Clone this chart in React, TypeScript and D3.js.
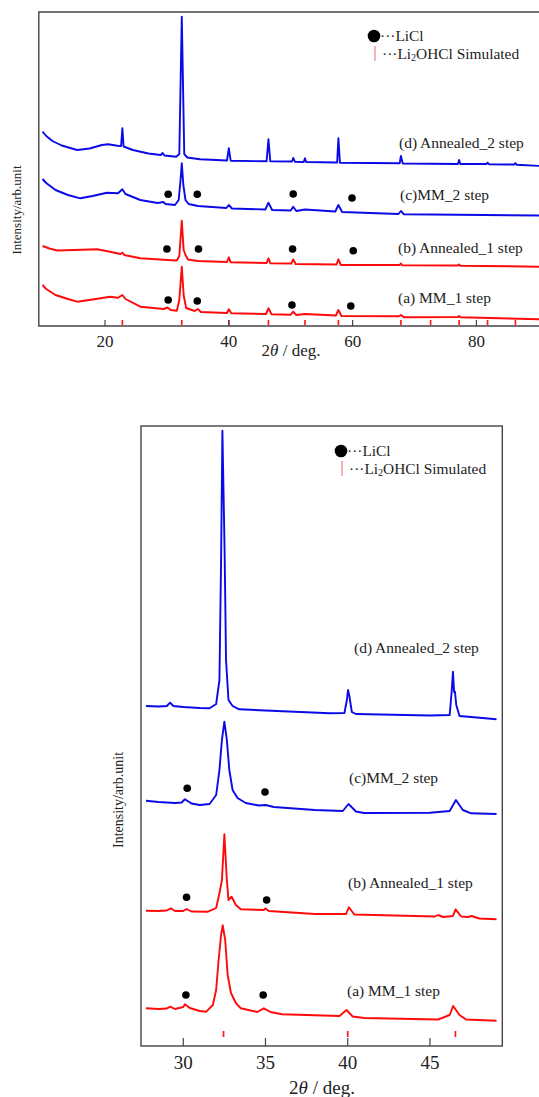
import React, { useEffect, useRef } from 'react'
import * as d3 from 'd3'

// ---- data (2theta in deg, intensity in arbitrary units) ----
type Pt = [number, number]

const topD: Pt[] = [[9.9,194.3],[10.5,190],[11.5,185],[13,180.5],[15.5,176],[17.5,177.5],[19.5,181],[20.5,181.7],[22,180.3],[22.6,180],[22.8,197.7],[23,179.5],[24.5,176],[27,172.5],[29,171],[29.3,173],[29.6,170.5],[31.5,169.3],[32,172],[32.4,309.3],[32.8,172],[33.3,168.5],[35.3,166.7],[39.7,165.5],[40,177.7],[40.3,165.3],[46.1,164.7],[46.4,186.7],[46.7,164.7],[50.2,164.5],[50.4,168],[50.7,164.2],[52.1,164],[52.3,167.7],[52.5,164],[57.5,163.5],[57.7,187.7],[57.95,163.3],[67.6,162.7],[67.8,170],[68.1,162.5],[77,162],[77.2,166],[77.4,162],[81.6,162],[81.8,163.3],[82,161.8],[86.1,161.5],[86.3,162.8],[86.5,161.3],[90.4,160]]
const topC: Pt[] = [[9.9,147],[10.5,143],[12,136],[14,131],[16,127.7],[18,130],[20.3,133.3],[22.1,132.7],[22.8,136.7],[23.3,132],[25.7,126],[28.5,123],[29.4,124],[29.8,122],[31.3,121],[31.9,126],[32.2,146],[32.4,162.7],[32.65,141],[33,126],[33.5,122],[35,120],[39.6,118],[40,121],[40.5,117.5],[45.9,116.5],[46.4,123.3],[47,116],[50,115.5],[50.4,119.3],[50.9,115],[52.3,116.5],[57.2,114.5],[57.7,121],[58.3,114],[67.4,112],[67.8,115],[68.3,111.7],[90.4,110.5]]
const topB: Pt[] = [[9.9,80],[11,77.5],[12.3,75.5],[15,76],[18.7,76.7],[21,74],[22.5,72],[22.8,73.3],[23.1,71],[25.7,67.7],[30.1,66],[31.6,65.5],[32,70],[32.4,105.3],[32.7,76],[33,71],[33.4,66.5],[35,65],[39.7,64],[40,68.7],[40.3,63.7],[46.1,63],[46.4,67.7],[46.7,62.7],[50.1,62.5],[50.4,66.7],[50.8,62],[57.4,61.5],[57.7,66.7],[58.1,61],[67.6,61],[67.8,62.5],[68,60.8],[77,60.5],[77.2,61.5],[77.4,60.3],[90.4,59.3]]
const topA: Pt[] = [[9.9,41],[10.5,37],[12,31],[14,27],[15.5,24.3],[18,26.5],[20.8,29.3],[22.1,28.3],[22.8,31],[23.3,27],[25.7,19.3],[29.5,17],[30.1,18.5],[30.6,16],[31.6,15.3],[32,26],[32.4,59.3],[32.7,31],[33.1,18],[34.5,15],[35,17],[35.5,14],[39.7,13],[40,16.7],[40.4,12.7],[46,12],[46.4,17.7],[46.9,11.7],[50,11.3],[50.4,14.3],[50.9,11],[52.3,12],[57.3,10.5],[57.7,16],[58.2,10],[67.5,9.8],[67.8,11],[68.3,8.7],[77,9],[77.2,10],[77.4,8.8],[90.4,6.7]]

const botD: Pt[] = [[27.73,340],[28.5,339.5],[29,340],[29.2,343.3],[29.4,340],[30,339],[31,338],[31.6,337.7],[32,342],[32.2,366],[32.3,486],[32.38,615.3],[32.48,526],[32.52,488],[32.6,386],[32.75,346],[33,340],[33.4,336.7],[35,335.5],[38.9,332.7],[39.8,333],[39.95,346],[40.02,356],[40.1,350],[40.25,334],[40.5,332],[45,330.5],[46.2,331],[46.33,356],[46.4,374.3],[46.47,354],[46.52,354.3],[46.6,341],[46.8,330],[47.5,329],[49.05,326.7]]
const botC: Pt[] = [[27.73,245.3],[28.5,244],[29.5,243],[29.9,243.5],[30.1,246.7],[30.5,242.5],[31,241],[31.6,242],[32,251],[32.2,276],[32.35,306],[32.5,324.3],[32.65,306],[32.8,276],[33,256],[33.3,248],[33.8,243],[34.6,240.5],[35,241],[35.5,239],[38,236],[39.7,235],[40.05,242],[40.5,234.5],[41,233],[45,233.3],[46.2,235],[46.58,246],[47,236],[47.5,232.7],[49.05,232]]
const botB: Pt[] = [[27.73,135.3],[28.5,135],[29,135.5],[29.25,137.7],[29.5,135],[30,135],[30.2,137],[30.5,134.5],[31.5,134.3],[32,138],[32.2,152.7],[32.35,166],[32.5,211.7],[32.65,166],[32.75,146],[32.94,149.3],[33.2,141],[33.5,136.7],[34.9,136],[35,137.5],[35.2,135],[38,132],[39.9,132],[40.07,138.7],[40.4,131.5],[45.3,129.5],[45.5,131],[45.8,129],[46.4,130],[46.56,136.7],[46.9,129.5],[47.3,129],[47.53,130],[48,127.5],[49.05,126.7]]
const botA: Pt[] = [[27.73,37.7],[28.5,37],[29,37.5],[29.2,39.3],[29.5,37],[30,39],[30.1,41.7],[30.4,38],[31,35],[31.4,34.3],[31.8,41],[32,56],[32.15,86],[32.3,111],[32.4,120.7],[32.55,106],[32.7,71],[32.9,53],[33.2,43],[33.5,37.7],[34.5,34],[34.9,37.7],[35.3,34],[36,31.7],[39.5,30],[39.93,36],[40.3,29.5],[41,28],[45.5,26.5],[46.2,31],[46.41,40],[46.8,31],[47.2,26.5],[49.05,25.3]]

// LiCl markers
const topDots: Pt[] = [[30.2,131.7],[34.9,131.7],[50.4,132],[59.9,128],[30.0,77],[35.1,77],[50.3,77],[60.1,75.3],[30.2,26],[34.9,25],[50.2,21],[59.7,20]]
const botDots: Pt[] = [[30.24,257.7],[34.97,254],[30.2,148.7],[35.07,146],[30.16,51],[34.86,51]]

// Li2OHCl simulated reflections
const simTop = [22.8, 32.4, 40.0, 46.4, 52.3, 57.7, 67.8, 72.6, 77.2, 81.8, 86.3]
const simBot = [32.45, 40.0, 46.55]

const topTicks = [20, 40, 60, 80]
const botTicks = [30, 35, 40, 45]

const seriesNames = ['(d) Annealed_2 step', '(c)MM_2 step', '(b) Annealed_1 step', '(a) MM_1 step']
const seriesColors = ['#0a0ae8', '#0a0ae8', '#ff0a0a', '#ff0a0a']

const FONT = '"Liberation Serif", "Times New Roman", serif'

function App() {
  const ref = useRef<SVGSVGElement>(null)

  useEffect(() => {
    const svg = d3.select(ref.current)
    svg.selectAll('*').remove()

    const panels = [
      {
        x: d3.scaleLinear().domain([9.3, 90.4]).range([38.8, 540.8]),
        y: d3.scaleLinear().domain([0, 314]).range([326, 12]),
        series: [topD, topC, topB, topA], dots: topDots, sim: simTop, ticks: topTicks,
        tickLen: 6, simY: [320, 325], labelY: [147.5, 199.5, 253, 303], labelX: [399, 400, 398, 398],
        legend: [374, 36], yLab: [16, 210, 13], title: [291, 356, 17], tickFont: 17, tickY: 347
      },
      {
        x: d3.scaleLinear().domain([27.43, 49.4]).range([141, 502.3]),
        y: d3.scaleLinear().domain([0, 620]).range([1046, 426]),
        series: [botD, botC, botB, botA], dots: botDots, sim: simBot, ticks: botTicks,
        tickLen: 8, simY: [1031, 1037], labelY: [652.5, 782.5, 887.5, 995.5], labelX: [354, 349, 348, 347],
        legend: [341, 451], yLab: [118, 800, 14], title: [322, 1094, 19], tickFont: 19, tickY: 1069
      }
    ]

    panels.forEach((p, pi) => {
      const [x0, x1] = p.x.range()
      const [yb, yt] = p.y.range()
      const g = svg.append('g')

      // traces
      const line = d3.line<Pt>().x(d => p.x(d[0])).y(d => p.y(d[1]))
      p.series.forEach((s, i) => {
        g.append('path').attr('d', line(s))
          .attr('fill', 'none').attr('stroke', seriesColors[i])
          .attr('stroke-width', 1.9).attr('stroke-linejoin', 'round')
      })

      // LiCl dots
      g.selectAll('circle.dot').data(p.dots).enter().append('circle')
        .attr('class', 'dot')
        .attr('cx', d => p.x(d[0])).attr('cy', d => p.y(d[1])).attr('r', 3.8)
        .attr('fill', 'black')

      // frame
      if (pi === 0) {
        g.append('path').attr('d', `M${x1},${yt}H${x0}V${yb}H${x1}`)
          .attr('fill', 'none').attr('stroke', '#444').attr('stroke-width', 1.4)
      } else {
        g.append('rect').attr('x', x0).attr('y', yt).attr('width', x1 - x0).attr('height', yb - yt)
          .attr('fill', 'none').attr('stroke', '#444').attr('stroke-width', 1.4)
      }

      // simulated reflection ticks
      g.selectAll('line.sim').data(p.sim).enter().append('line')
        .attr('x1', d => p.x(d)).attr('x2', d => p.x(d))
        .attr('y1', p.simY[0]).attr('y2', p.simY[1])
        .attr('stroke', '#ff1a1a').attr('stroke-width', 1.7)

      // axis ticks and labels
      g.selectAll('line.tick').data(p.ticks).enter().append('line')
        .attr('x1', d => p.x(d)).attr('x2', d => p.x(d))
        .attr('y1', yb).attr('y2', yb - p.tickLen)
        .attr('stroke', '#444').attr('stroke-width', 1.2)
      g.selectAll('text.tick').data(p.ticks).enter().append('text')
        .attr('x', d => p.x(d)).attr('y', p.tickY)
        .attr('text-anchor', 'middle').attr('font-size', p.tickFont).attr('font-family', FONT)
        .attr('fill', '#222')
        .text(d => d)

      // x axis title
      const t = g.append('text').attr('x', p.title[0]).attr('y', p.title[1])
        .attr('text-anchor', 'middle').attr('font-size', p.title[2]).attr('font-family', FONT).attr('fill', '#222')
      t.append('tspan').text('2')
      t.append('tspan').attr('font-style', 'italic').text('θ')
      t.append('tspan').text(' / deg.')

      // y axis title
      g.append('text')
        .attr('transform', `translate(${p.yLab[0]},${p.yLab[1]}) rotate(-90)`)
        .attr('text-anchor', 'middle').attr('dominant-baseline', 'central')
        .attr('font-size', p.yLab[2]).attr('font-family', FONT).attr('fill', '#222')
        .text('Intensity/arb.unit')

      // series labels
      seriesNames.forEach((name, i) => {
        g.append('text').attr('x', p.labelX[i]).attr('y', p.labelY[i])
          .attr('font-size', 15.5).attr('font-family', FONT).attr('fill', '#222')
          .text(name)
      })

      // legend
      const [lx, ly] = p.legend
      g.append('circle').attr('cx', lx).attr('cy', ly).attr('r', 6.3).attr('fill', 'black')
      g.append('text').attr('x', lx + 6).attr('y', ly + 5)
        .attr('font-size', 15.4).attr('font-family', FONT).attr('fill', '#222')
        .text('···LiCl')
      g.append('line').attr('x1', lx + 1).attr('x2', lx + 1).attr('y1', ly + 10).attr('y2', ly + 25)
        .attr('stroke', '#f08080').attr('stroke-width', 1.2)
      const lt = g.append('text').attr('x', lx + 8).attr('y', ly + 22.5)
        .attr('font-size', 15.4).attr('font-family', FONT).attr('fill', '#222')
      lt.append('tspan').text('···Li')
      lt.append('tspan').attr('font-size', 10).attr('dy', 2).text('2')
      lt.append('tspan').attr('dy', -2).text('OHCl Simulated')
    })
  }, [])

  return (
    <svg ref={ref} width={539} height={1097}
      style={{ position: 'absolute', left: 0, top: 0, background: 'white' }} />
  )
}

export default App
